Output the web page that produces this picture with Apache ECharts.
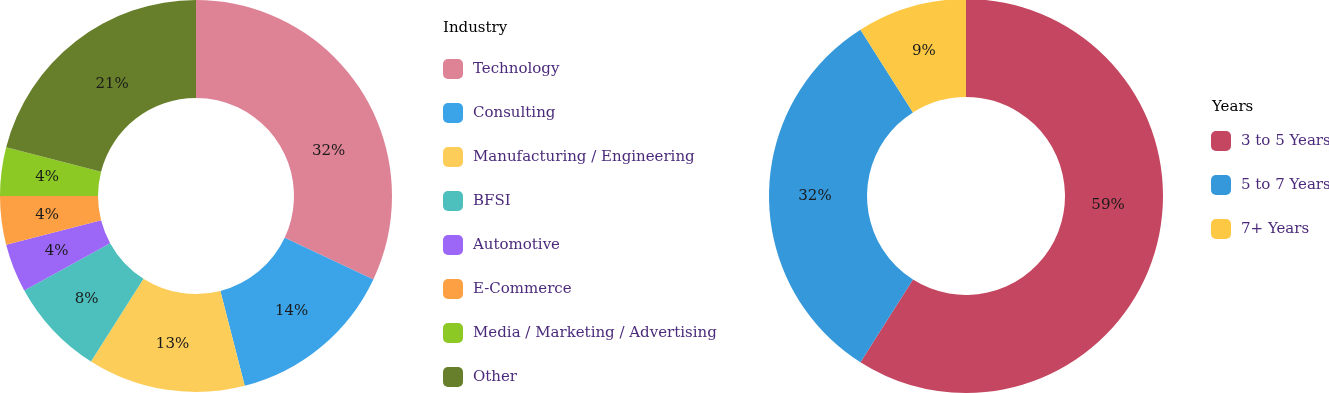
<!DOCTYPE html>
<html>
<head>
<meta charset="utf-8">
<script src="https://cdn.jsdelivr.net/npm/echarts@6/dist/echarts.min.js"></script>
<style>
html,body{margin:0;padding:0;background:#fff;}
#c{width:1329px;height:393px;}
</style>
</head>
<body>
<div id="c"></div>
<script>
var industryNames = ['Technology','Consulting','Manufacturing / Engineering','BFSI','Automotive','E-Commerce','Media / Marketing / Advertising','Other'];
var industryValues = [32,14,13,8,4,4,4,21];
var yearNames = ['3 to 5 Years','5 to 7 Years','7+ Years'];
var yearValues = [59,32,9];

var industryColors = ['#DE8396','#3BA3E8','#FDCD5A','#4DC0BD','#9C66F7','#FDA043','#8CC925','#677F2A'];
var yearColors = ['#C44660','#3498DB','#FDC844'];
// label nudges (style only)
var labelNudge = {'Technology':[6,35], '3 to 5 Years':[-3,-33], 'Other':[8,7]};

var FONT = 'DejaVu Serif';
var chart = echarts.init(document.getElementById('c'));

function mkData(names, values, colors){
  return names.map(function(n,i){
    var d = {name:n, value:values[i], itemStyle:{color:colors[i]}};
    if (labelNudge[n]) d.label = {offset:labelNudge[n]};
    return d;
  });
}

var labelCfg = {
  show:true, position:'inside', formatter:'{d}%',
  color:'#1a1a1a', fontFamily:FONT, fontSize:15, textBorderWidth:0
};

var legendText = {fontFamily:FONT, fontSize:15, color:'#4B2A7B', padding:[0,0,0,5]};

chart.setOption({
  animation:false,
  title:[
    {text:'Industry', left:443, top:21, padding:0, textStyle:{fontFamily:FONT, fontSize:15, fontWeight:'normal', color:'#000'}},
    {text:'Years', left:1212, top:100, padding:0, textStyle:{fontFamily:FONT, fontSize:15, fontWeight:'normal', color:'#000'}}
  ],
  legend:[
    {
      data:industryNames, orient:'vertical', left:443, top:59, height:400, padding:0,
      itemWidth:20, itemHeight:20, itemGap:24, icon:'roundRect', textStyle:legendText
    },
    {
      data:yearNames, orient:'vertical', left:1211, top:131, height:300, padding:0,
      itemWidth:20, itemHeight:20, itemGap:24, icon:'roundRect', textStyle:legendText
    }
  ],
  series:[
    {
      type:'pie', center:[196,196], radius:[98,196], startAngle:90, clockwise:true,
      avoidLabelOverlap:false, label:labelCfg, labelLine:{show:false},
      itemStyle:{borderWidth:0}, emphasis:{disabled:true},
      data:mkData(industryNames, industryValues, industryColors)
    },
    {
      type:'pie', center:[966,196], radius:[99,197], startAngle:90, clockwise:true,
      avoidLabelOverlap:false, label:labelCfg, labelLine:{show:false},
      itemStyle:{borderWidth:0}, emphasis:{disabled:true},
      data:mkData(yearNames, yearValues, yearColors)
    }
  ]
});
</script>
</body>
</html>
